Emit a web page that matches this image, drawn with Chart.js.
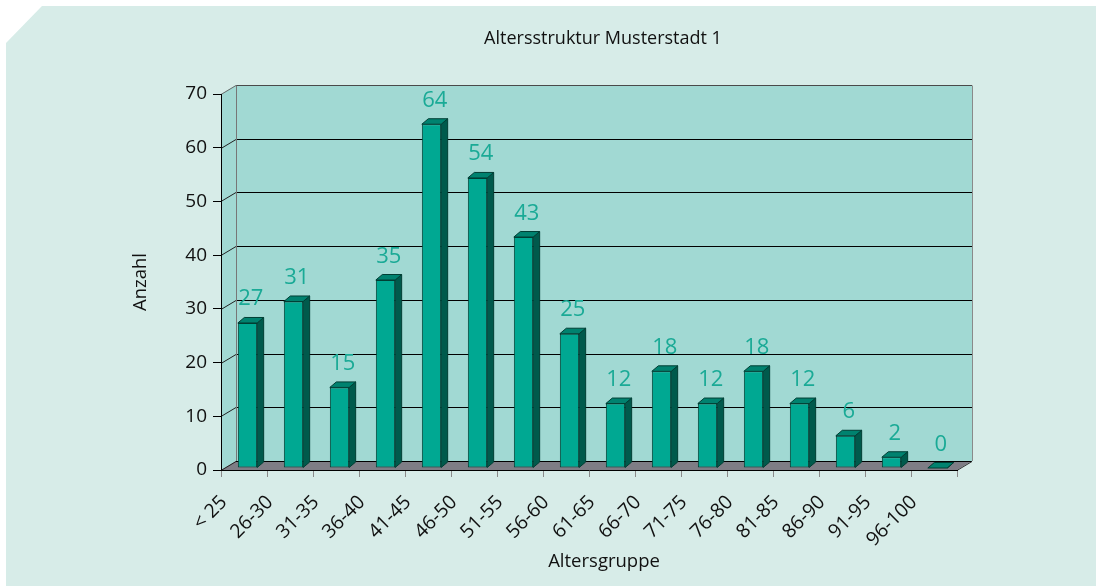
<!DOCTYPE html>
<html>
<head>
<meta charset="utf-8">
<title>Altersstruktur Musterstadt 1</title>
<script src="https://cdn.jsdelivr.net/npm/chart.js@4.4.1/dist/chart.umd.min.js"></script>
<style>
  html, body { margin: 0; padding: 0; background: #ffffff; }
  canvas { display: block; }
</style>
</head>
<body>
<canvas id="ageChart" width="1096" height="586"></canvas>
<script>
"use strict";

// ------------------------------------------------------- //
// Data
// ------------------------------------------------------ //
var ageGroups = ["< 25", "26-30", "31-35", "36-40", "41-45", "46-50", "51-55", "56-60",
                 "61-65", "66-70", "71-75", "76-80", "81-85", "86-90", "91-95", "96-100"];
var residents = [27, 31, 15, 35, 64, 54, 43, 25, 12, 18, 12, 18, 12, 6, 2, 0];
var yMin = 0;
var yMax = 70;
var yStep = 10;

var chartTitle = "Altersstruktur Musterstadt 1";
var xTitle = "Altersgruppe";
var yTitle = "Anzahl";

// colours
var pageBg = "#d7ece8";
var wallFill = "#a1d9d3";
var floorFill = "#7e7d85";
var barFront = "#00a892";
var barSide = "#005a4c";
var barTop = "#00826f";
var barEdge = "#003e34";
var labelColor = "#1aaa96";
var textColor = "#111111";
var fontFamily = "'Open Sans', sans-serif";

// fake 3d offsets
var wallDepth = { x: 15, y: -9 };
var barShift = { x: 3.5, y: -2 };
var barDepth = { x: 6.5, y: -5.5 };

function poly(ctx, pts, fill, stroke) {
    ctx.beginPath();
    ctx.moveTo(pts[0][0], pts[0][1]);
    for (var i = 1; i < pts.length; i++) {
        ctx.lineTo(pts[i][0], pts[i][1]);
    }
    ctx.closePath();
    if (fill) { ctx.fillStyle = fill; ctx.fill(); }
    if (stroke) { ctx.strokeStyle = stroke; ctx.stroke(); }
}

function line(ctx, x1, y1, x2, y2, color) {
    ctx.strokeStyle = color;
    ctx.beginPath();
    ctx.moveTo(x1, y1);
    ctx.lineTo(x2, y2);
    ctx.stroke();
}

// ------------------------------------------------------- //
// Walls, floor and bar faces
// ------------------------------------------------------ //
var threeD = {
    id: "threeD",
    beforeDraw: function (chart) {
        var ctx = chart.ctx;
        var area = chart.chartArea;
        var yScale = chart.scales.y;
        var L = area.left, R = area.right, T = area.top, B = area.bottom;
        var dx = wallDepth.x, dy = wallDepth.y;

        ctx.save();
        // card with cut corner
        poly(ctx, [[6, 43], [42, 6], [chart.width, 6], [chart.width, chart.height], [6, chart.height]], pageBg);

        // back wall, side wall, floor
        ctx.fillStyle = wallFill;
        ctx.fillRect(L + dx, T + dy, R - L, B - T);
        poly(ctx, [[L, T], [L + dx, T + dy], [L + dx, B + dy], [L, B]], wallFill);
        poly(ctx, [[L, B], [R, B], [R + dx, B + dy], [L + dx, B + dy]], floorFill);

        ctx.lineWidth = 1;
        yScale.ticks.forEach(function (t) {
            var y = Math.round(yScale.getPixelForValue(t.value)) + 0.5;
            if (t.value === yMax) return;
            line(ctx, L + dx, y + dy, R + dx, y + dy, "#000000");
            line(ctx, L, y, L + dx, y + dy, "#222222");
        });

        // wall edges
        var top = Math.round(T) + 0.5;
        line(ctx, L, top, L + dx, top + dy, "#6a6a6a");
        line(ctx, L + dx, top + dy, R + dx, top + dy, "#4a4a4a");
        line(ctx, L + dx + 0.5, top + dy, L + dx + 0.5, B + dy, "#777777");
        line(ctx, R + dx + 0.5, top + dy, R + dx + 0.5, B + dy, "#8a8a8a");
        line(ctx, R, Math.round(B) + 0.5, R + dx, Math.round(B) + 0.5 + dy, "#333333");
        ctx.restore();
    },
    beforeDatasetsDraw: function (chart) {
        chart.ctx.save();
        chart.ctx.translate(barShift.x, barShift.y);
    },
    afterDatasetsDraw: function (chart) {
        var ctx = chart.ctx;
        ctx.restore();

        var meta = chart.getDatasetMeta(0);
        var values = chart.data.datasets[0].data;
        ctx.save();
        ctx.lineWidth = 1;
        meta.data.forEach(function (bar, i) {
            var p = bar.getProps(["x", "y", "base", "width"], true);
            var xl = p.x - p.width / 2 + barShift.x;
            var xr = p.x + p.width / 2 + barShift.x;
            var yt = p.y + barShift.y;
            var yb = p.base + barShift.y;
            var ddx = barDepth.x, ddy = barDepth.y;

            poly(ctx, [[xr, yt], [xr + ddx, yt + ddy], [xr + ddx, yb + ddy], [xr, yb]], barSide, barEdge);
            poly(ctx, [[xl, yt], [xl + ddx, yt + ddy], [xr + ddx, yt + ddy], [xr, yt]], barTop, barEdge);

            ctx.fillStyle = labelColor;
            ctx.font = "22px " + fontFamily;
            ctx.textAlign = "center";
            ctx.textBaseline = "alphabetic";
            ctx.fillText(String(values[i]), (xl + xr) / 2 + ddx / 2, yt - 17.5);
        });
        ctx.restore();
    },
    afterDraw: function (chart) {
        var ctx = chart.ctx;
        ctx.save();
        ctx.fillStyle = textColor;
        ctx.font = "18px " + fontFamily;
        ctx.textAlign = "center";
        ctx.textBaseline = "middle";
        ctx.fillText(chartTitle, 603, 39);
        ctx.font = "18.5px " + fontFamily;
        ctx.fillText(xTitle, 604, 562);
        ctx.restore();
    }
};

// ------------------------------------------------------- //
// Bar Chart
// ------------------------------------------------------ //
var AGECHART = document.getElementById("ageChart");
var ageChart = new Chart(AGECHART, {
    type: "bar",
    plugins: [threeD],
    data: {
        labels: ageGroups,
        datasets: [
        {
            label: yTitle,
            data: residents,
            backgroundColor: barFront,
            borderColor: barEdge,
            borderWidth: 1,
            borderSkipped: false,
            barPercentage: 0.42,
            categoryPercentage: 1.0,
        }
        ],
    },
    options: {
        responsive: false,
        animation: false,
        layout: {
            padding: { left: 126, right: 139, top: 94, bottom: 0 },
        },
        plugins: {
            legend: { display: false },
            tooltip: { enabled: false },
            title: { display: false },
        },
        scales: {
            x: {
                offset: true,
                grid: {
                    offset: true,
                    drawOnChartArea: false,
                    drawTicks: true,
                    tickLength: 7,
                    color: "#8a8a8a",
                },
                border: { display: true, color: "#000000", width: 1 },
                ticks: {
                    autoSkip: false,
                    minRotation: 45,
                    maxRotation: 45,
                    labelOffset: -20,
                    padding: 14,
                    color: textColor,
                    font: { family: fontFamily, size: 19.5 },
                },
                afterFit: function (scale) { scale.height = 116; },
            },
            y: {
                min: yMin,
                max: yMax,
                ticks: {
                    stepSize: yStep,
                    padding: 6,
                    color: textColor,
                    font: { family: fontFamily, size: 19 },
                },
                grid: {
                    drawOnChartArea: false,
                    drawTicks: true,
                    tickLength: 8,
                    color: "#000000",
                },
                border: { display: true, color: "#000000", width: 1 },
                title: {
                    display: true,
                    text: yTitle,
                    color: textColor,
                    font: { family: fontFamily, size: 18.5 },
                    padding: { top: 4, bottom: 0 },
                },
                afterFit: function (scale) { scale.width = 95; },
            },
        },
    },
});
</script>
</body>
</html>
